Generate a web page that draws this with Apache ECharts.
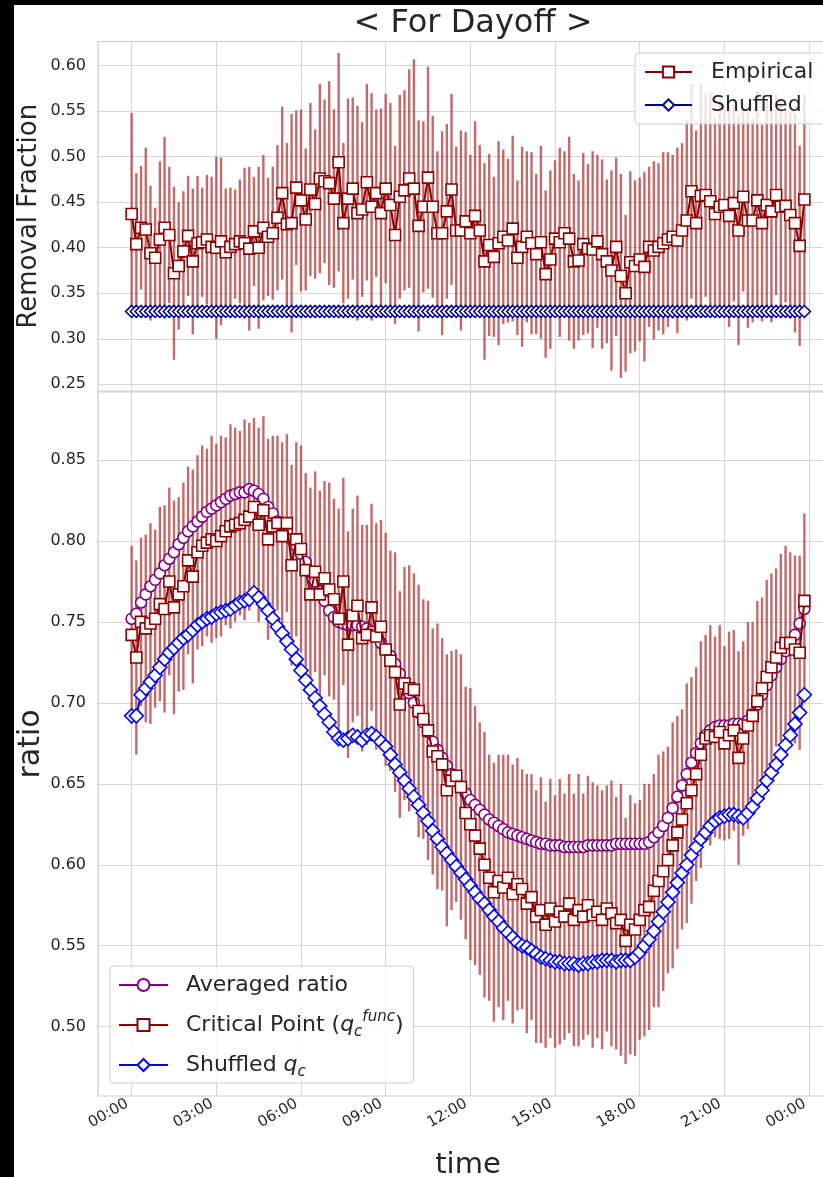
<!DOCTYPE html>
<html><head><meta charset="utf-8">
<script src="https://cdn.jsdelivr.net/npm/echarts@6/dist/echarts.min.js"></script>
<style>
html,body{margin:0;padding:0;background:#000;width:823px;height:1177px;overflow:hidden;}
#bg{position:absolute;left:14px;top:5px;width:809px;height:1172px;background:#fff;}
#chart{position:absolute;left:0;top:0;width:823px;height:1177px;}
</style></head><body><div id="bg"></div><div id="chart"></div>
<script>
// ---------------- data ----------------
const stepMinutes = 10; // one point every 10 minutes, 00:00 .. 23:50
const tickMinutes = [0, 180, 360, 540, 720, 900, 1080, 1260, 1440];
const timeLabels = ['00:00', '03:00', '06:00', '09:00', '12:00', '15:00', '18:00', '21:00', '00:00'];
const topTicks = [0.25, 0.30, 0.35, 0.40, 0.45, 0.50, 0.55, 0.60];
const bottomTicks = [0.50, 0.55, 0.60, 0.65, 0.70, 0.75, 0.80, 0.85];

const removalEmpirical = [
  0.437, 0.404, 0.422, 0.420, 0.394, 0.389, 0.409, 0.422, 0.414, 0.372,
  0.380, 0.396, 0.413, 0.385, 0.405, 0.406, 0.409, 0.401, 0.400, 0.407,
  0.395, 0.401, 0.404, 0.407, 0.405, 0.399, 0.418, 0.400, 0.422, 0.412,
  0.416, 0.433, 0.460, 0.426, 0.427, 0.466, 0.452, 0.431, 0.464, 0.448,
  0.476, 0.473, 0.471, 0.454, 0.494, 0.427, 0.454, 0.465, 0.438, 0.442,
  0.472, 0.445, 0.460, 0.438, 0.465, 0.447, 0.414, 0.456, 0.463, 0.476,
  0.465, 0.424, 0.445, 0.477, 0.445, 0.416, 0.416, 0.440, 0.464, 0.419,
  0.419, 0.429, 0.416, 0.435, 0.419, 0.385, 0.403, 0.390, 0.405, 0.412,
  0.408, 0.421, 0.389, 0.401, 0.412, 0.405, 0.393, 0.406, 0.371, 0.387,
  0.410, 0.406, 0.416, 0.410, 0.385, 0.386, 0.404, 0.399, 0.398, 0.407,
  0.393, 0.385, 0.375, 0.401, 0.369, 0.350, 0.384, 0.380, 0.387, 0.379,
  0.401, 0.397, 0.401, 0.405, 0.409, 0.412, 0.408, 0.419, 0.430, 0.462,
  0.427, 0.457, 0.458, 0.451, 0.437, 0.445, 0.447, 0.435, 0.449, 0.419,
  0.456, 0.430, 0.430, 0.452, 0.427, 0.447, 0.440, 0.458, 0.445, 0.446,
  0.436, 0.427, 0.402, 0.453
];
const removalEmpiricalErr = [
  0.111, 0.078, 0.068, 0.090, 0.074, 0.055, 0.086, 0.100, 0.075, 0.095,
  0.070, 0.066, 0.066, 0.080, 0.074, 0.060, 0.071, 0.077, 0.100, 0.092,
  0.070, 0.065, 0.060, 0.068, 0.083, 0.090, 0.060, 0.089, 0.080, 0.065,
  0.073, 0.080, 0.095, 0.089, 0.120, 0.085, 0.100, 0.078, 0.095, 0.082,
  0.104, 0.090, 0.112, 0.098, 0.120, 0.088, 0.110, 0.100, 0.118, 0.096,
  0.108, 0.125, 0.092, 0.115, 0.104, 0.112, 0.098, 0.112, 0.110, 0.120,
  0.142, 0.116, 0.094, 0.122, 0.100, 0.090, 0.112, 0.096, 0.105, 0.092,
  0.110, 0.098, 0.086, 0.104, 0.094, 0.108, 0.100, 0.088, 0.112, 0.096,
  0.090, 0.102, 0.085, 0.110, 0.094, 0.100, 0.088, 0.106, 0.092, 0.098,
  0.086, 0.104, 0.090, 0.112, 0.096, 0.088, 0.100, 0.093, 0.108, 0.095,
  0.104, 0.090, 0.110, 0.098, 0.112, 0.086, 0.100, 0.094, 0.090, 0.104,
  0.088, 0.098, 0.092, 0.100, 0.096, 0.090, 0.102, 0.096, 0.110, 0.118,
  0.102, 0.124, 0.112, 0.120, 0.106, 0.116, 0.110, 0.122, 0.108, 0.126,
  0.104, 0.118, 0.112, 0.120, 0.108, 0.116, 0.122, 0.110, 0.118, 0.106,
  0.114, 0.120, 0.110, 0.116
];
const removalShuffled = [
  0.330, 0.330, 0.330, 0.330, 0.330, 0.330, 0.330, 0.330, 0.330, 0.330,
  0.330, 0.330, 0.330, 0.330, 0.330, 0.330, 0.330, 0.330, 0.330, 0.330,
  0.330, 0.330, 0.330, 0.330, 0.330, 0.330, 0.330, 0.330, 0.330, 0.330,
  0.330, 0.330, 0.330, 0.330, 0.330, 0.330, 0.330, 0.330, 0.330, 0.330,
  0.330, 0.330, 0.330, 0.330, 0.330, 0.330, 0.330, 0.330, 0.330, 0.330,
  0.330, 0.330, 0.330, 0.330, 0.330, 0.330, 0.330, 0.330, 0.330, 0.330,
  0.330, 0.330, 0.330, 0.330, 0.330, 0.330, 0.330, 0.330, 0.330, 0.330,
  0.330, 0.330, 0.330, 0.330, 0.330, 0.330, 0.330, 0.330, 0.330, 0.330,
  0.330, 0.330, 0.330, 0.330, 0.330, 0.330, 0.330, 0.330, 0.330, 0.330,
  0.330, 0.330, 0.330, 0.330, 0.330, 0.330, 0.330, 0.330, 0.330, 0.330,
  0.330, 0.330, 0.330, 0.330, 0.330, 0.330, 0.330, 0.330, 0.330, 0.330,
  0.330, 0.330, 0.330, 0.330, 0.330, 0.330, 0.330, 0.330, 0.330, 0.330,
  0.330, 0.330, 0.330, 0.330, 0.330, 0.330, 0.330, 0.330, 0.330, 0.330,
  0.330, 0.330, 0.330, 0.330, 0.330, 0.330, 0.330, 0.330, 0.330, 0.330,
  0.330, 0.330, 0.330, 0.330
];

const averagedRatio = [
  0.752, 0.755, 0.762, 0.767, 0.772, 0.776, 0.780, 0.785, 0.789, 0.793,
  0.798, 0.802, 0.806, 0.809, 0.812, 0.815, 0.818, 0.820, 0.822, 0.824,
  0.826, 0.828, 0.829, 0.830, 0.830, 0.832, 0.831, 0.829, 0.826, 0.821,
  0.817, 0.812, 0.810, 0.806, 0.801, 0.797, 0.792, 0.787, 0.781, 0.775,
  0.769, 0.763, 0.757, 0.753, 0.750, 0.749, 0.748, 0.748, 0.748, 0.747,
  0.746, 0.744, 0.741, 0.737, 0.733, 0.729, 0.724, 0.718, 0.712, 0.706,
  0.700, 0.694, 0.688, 0.682, 0.676, 0.671, 0.666, 0.661, 0.656, 0.652,
  0.648, 0.644, 0.640, 0.637, 0.634, 0.631, 0.628, 0.626, 0.624, 0.622,
  0.620, 0.619, 0.618, 0.617, 0.616, 0.615, 0.614, 0.613, 0.613, 0.612,
  0.612, 0.612, 0.611, 0.611, 0.611, 0.611, 0.611, 0.612, 0.612, 0.612,
  0.612, 0.612, 0.612, 0.613, 0.613, 0.613, 0.613, 0.613, 0.613, 0.613,
  0.614, 0.617, 0.620, 0.624, 0.629, 0.635, 0.642, 0.649, 0.656, 0.663,
  0.669, 0.675, 0.680, 0.683, 0.685, 0.686, 0.686, 0.686, 0.687, 0.687,
  0.687, 0.689, 0.693, 0.699, 0.705, 0.711, 0.717, 0.722, 0.727, 0.732,
  0.737, 0.742, 0.749, 0.758
];
const criticalPoint = [
  0.742, 0.728, 0.750, 0.746, 0.749, 0.752, 0.761, 0.758, 0.775, 0.759,
  0.767, 0.772, 0.788, 0.778, 0.793, 0.797, 0.799, 0.801, 0.800, 0.803,
  0.806, 0.809, 0.810, 0.811, 0.813, 0.815, 0.821, 0.810, 0.819, 0.801,
  0.809, 0.811, 0.803, 0.811, 0.785, 0.801, 0.795, 0.782, 0.767, 0.781,
  0.767, 0.777, 0.770, 0.764, 0.752, 0.775, 0.736, 0.754, 0.760, 0.740,
  0.742, 0.759, 0.741, 0.747, 0.733, 0.726, 0.719, 0.699, 0.712, 0.709,
  0.708, 0.695, 0.690, 0.683, 0.670, 0.667, 0.662, 0.646, 0.652, 0.655,
  0.648, 0.632, 0.625, 0.618, 0.610, 0.600, 0.592, 0.583, 0.590, 0.586,
  0.592, 0.582, 0.588, 0.585, 0.576, 0.580, 0.568, 0.572, 0.563, 0.573,
  0.565, 0.571, 0.568, 0.576, 0.566, 0.572, 0.568, 0.575, 0.569, 0.571,
  0.566, 0.573, 0.570, 0.564, 0.566, 0.553, 0.563, 0.560, 0.566, 0.572,
  0.574, 0.584, 0.590, 0.596, 0.603, 0.612, 0.620, 0.628, 0.638, 0.646,
  0.656, 0.668, 0.678, 0.680, 0.679, 0.682, 0.675, 0.680, 0.683, 0.666,
  0.678, 0.686, 0.692, 0.701, 0.709, 0.716, 0.722, 0.728, 0.734, 0.737,
  0.737, 0.733, 0.731, 0.763
];
const criticalPointErr = [
  0.055, 0.060, 0.052, 0.058, 0.062, 0.055, 0.060, 0.064, 0.058, 0.066,
  0.060, 0.064, 0.058, 0.066, 0.060, 0.062, 0.058, 0.064, 0.060, 0.062,
  0.058, 0.063, 0.060, 0.057, 0.062, 0.058, 0.055, 0.060, 0.058, 0.062,
  0.056, 0.054, 0.058, 0.055, 0.062, 0.060, 0.064, 0.060, 0.066, 0.062,
  0.064, 0.060, 0.066, 0.062, 0.068, 0.064, 0.070, 0.066, 0.068, 0.070,
  0.068, 0.064, 0.070, 0.066, 0.072, 0.068, 0.074, 0.070, 0.072, 0.076,
  0.072, 0.078, 0.074, 0.080, 0.076, 0.082, 0.078, 0.084, 0.080, 0.078,
  0.082, 0.078, 0.084, 0.080, 0.078, 0.082, 0.076, 0.080, 0.078, 0.082,
  0.076, 0.080, 0.078, 0.074, 0.080, 0.076, 0.078, 0.082, 0.076, 0.080,
  0.078, 0.082, 0.076, 0.080, 0.078, 0.084, 0.076, 0.080, 0.082, 0.078,
  0.080, 0.076, 0.082, 0.078, 0.084, 0.076, 0.080, 0.078, 0.074, 0.078,
  0.076, 0.072, 0.078, 0.074, 0.070, 0.076, 0.072, 0.068, 0.074, 0.070,
  0.066, 0.070, 0.064, 0.068, 0.062, 0.066, 0.060, 0.064, 0.062, 0.066,
  0.060, 0.064, 0.058, 0.062, 0.056, 0.060, 0.058, 0.055, 0.058, 0.060,
  0.056, 0.058, 0.060, 0.054
];
const shuffledQc = [
  0.692, 0.692, 0.705, 0.709, 0.713, 0.717, 0.722, 0.727, 0.731, 0.734,
  0.737, 0.740, 0.742, 0.745, 0.748, 0.750, 0.752, 0.753, 0.755, 0.756,
  0.757, 0.758, 0.760, 0.762, 0.763, 0.764, 0.768, 0.765, 0.761, 0.757,
  0.752, 0.747, 0.743, 0.738, 0.733, 0.727, 0.720, 0.714, 0.708, 0.703,
  0.698, 0.693, 0.688, 0.682, 0.678, 0.677, 0.678, 0.680, 0.679, 0.677,
  0.680, 0.681, 0.679, 0.676, 0.673, 0.668, 0.662, 0.657, 0.652, 0.647,
  0.642, 0.637, 0.632, 0.627, 0.621, 0.616, 0.611, 0.607, 0.603, 0.599,
  0.595, 0.591, 0.587, 0.583, 0.579, 0.576, 0.572, 0.568, 0.565, 0.561,
  0.558, 0.555, 0.552, 0.550, 0.549, 0.547, 0.545, 0.543, 0.542, 0.541,
  0.540, 0.540, 0.539, 0.539, 0.539, 0.538, 0.539, 0.539, 0.540, 0.540,
  0.541, 0.541, 0.541, 0.540, 0.541, 0.541, 0.541, 0.543, 0.546, 0.550,
  0.554, 0.559, 0.565, 0.571, 0.577, 0.583, 0.589, 0.595, 0.600, 0.606,
  0.611, 0.616, 0.620, 0.624, 0.627, 0.629, 0.630, 0.631, 0.631, 0.630,
  0.629, 0.632, 0.636, 0.641, 0.646, 0.652, 0.657, 0.662, 0.668, 0.674,
  0.680, 0.687, 0.694, 0.705
];

// ---------------- chart ----------------
const FONT = 'DejaVu Sans';
const TEXT = '#262626';
const GRIDC = '#d6d6d6';
const ERRC = 'rgba(170,50,50,0.72)';

function pts(arr) { return arr.map((v, i) => [i * stepMinutes, v]); }
function errData(mean, err) { return mean.map((v, i) => [i * stepMinutes, v - err[i], v + err[i]]); }
function errSeries(xi, yi, mean, err) {
  return {
    type: 'custom', xAxisIndex: xi, yAxisIndex: yi, z: 1, silent: true,
    data: errData(mean, err), encode: { x: 0, y: [1, 2] },
    renderItem: function (params, api) {
      const x = api.value(0);
      const p1 = api.coord([x, api.value(1)]);
      const p2 = api.coord([x, api.value(2)]);
      return { type: 'line', shape: { x1: p1[0], y1: p1[1], x2: p2[0], y2: p2[1] },
        style: { stroke: ERRC, lineWidth: 2.4 } };
    }
  };
}
const xMin = -71.5, xMax = 1501.5;
function xAxisCfg(gi, showLabels) {
  return {
    gridIndex: gi, type: 'value', min: xMin, max: xMax,
    axisLine: { show: false },
    axisTick: { show: false, customValues: tickMinutes },
    axisLabel: {
      show: showLabels, customValues: tickMinutes, rotate: 30, margin: 4, padding: [0, 5, 0, 0],
      fontSize: 15, color: TEXT, fontFamily: FONT,
      formatter: v => timeLabels[tickMinutes.indexOf(Math.round(v))] || ''
    },
    splitLine: { show: true, lineStyle: { color: GRIDC, width: 1 } },
    name: showLabels ? 'time' : '', nameLocation: 'middle', nameGap: 55, nameMoveOverlap: false,
    nameTextStyle: { fontSize: 29, color: TEXT, fontFamily: FONT }
  };
}
function yAxisCfg(gi, min, max, ticks, name, nameSize, nameGap) {
  return {
    gridIndex: gi, type: 'value', min: min, max: max,
    axisLine: { show: false },
    axisTick: { show: false, customValues: ticks },
    axisLabel: { customValues: ticks, formatter: v => v.toFixed(2), fontSize: 16,
      color: TEXT, fontFamily: FONT, margin: 12 },
    splitLine: { show: true, lineStyle: { color: GRIDC, width: 1 } },
    name: name, nameLocation: 'middle', nameGap: nameGap, nameMoveOverlap: false,
    nameTextStyle: { fontSize: nameSize, color: TEXT, fontFamily: FONT }
  };
}
function lineSeries(name, xi, yi, data, symbol, size, color, z) {
  return {
    name: name, type: 'line', xAxisIndex: xi, yAxisIndex: yi, z: z,
    data: pts(data), symbol: symbol, symbolSize: size, showAllSymbol: true,
    lineStyle: { color: color, width: 2 },
    itemStyle: { color: '#ffffff', borderColor: color, borderWidth: 1.6 },
    emphasis: { disabled: true }, silent: true
  };
}

const chart = echarts.init(document.getElementById('chart'), null, { renderer: 'canvas' });
chart.setOption({
  animation: false,
  backgroundColor: 'transparent',
  title: {
    text: '< For Dayoff >', left: 468, top: 3, textAlign: 'center',
    textStyle: { fontSize: 32, fontWeight: 'normal', color: TEXT, fontFamily: FONT }
  },
  grid: [
    { left: 98, top: 41.5, width: 740, height: 349.5, show: true, borderColor: '#cccccc', borderWidth: 1.2,
      backgroundColor: 'transparent', outerBoundsMode: 'none', containLabel: false },
    { left: 98, top: 392, width: 740, height: 704, show: true, borderColor: '#cccccc', borderWidth: 1.2,
      backgroundColor: 'transparent', outerBoundsMode: 'none', containLabel: false }
  ],
  xAxis: [xAxisCfg(0, false), xAxisCfg(1, true)],
  yAxis: [
    yAxisCfg(0, 0.2426, 0.6266, topTicks, 'Removal Fraction', 26, 56),
    yAxisCfg(1, 0.4572, 0.892, bottomTicks, 'ratio', 30, 52)
  ],
  legend: [
    {
      data: ['Empirical', 'Shuffled'], orient: 'vertical', left: 635, top: 53,
      itemWidth: 47, itemHeight: 14, itemGap: 11, padding: [8, 40, 8, 9],
      backgroundColor: 'rgba(255,255,255,0.8)', borderColor: '#cccccc', borderWidth: 1, borderRadius: 4,
      textStyle: { fontSize: 22, color: TEXT, fontFamily: FONT, padding: [0, 0, 0, 14] },
      selectedMode: false
    },
    {
      data: ['Averaged ratio', 'Critical Point', 'Shuffled qc'], orient: 'vertical', left: 110, top: 966,
      itemWidth: 49, itemHeight: 15, itemGap: 10, padding: [4, 10, 3, 8],
      backgroundColor: 'rgba(255,255,255,0.8)', borderColor: '#cccccc', borderWidth: 1, borderRadius: 4,
      selectedMode: false,
      formatter: function (name) {
        if (name === 'Critical Point') return '{t|Critical Point (}{q|q}{sub|c}{sup|func}{t|)}';
        if (name === 'Shuffled qc') return '{t|Shuffled }{q|q}{sub|c}';
        return '{t|' + name + '}';
      },
      textStyle: {
        fontSize: 22, color: TEXT, fontFamily: FONT, lineHeight: 30, padding: [0, 0, 0, 13],
        rich: {
          t: { fontSize: 22, color: TEXT, fontFamily: FONT, lineHeight: 30 },
          q: { fontSize: 22, color: TEXT, fontFamily: FONT, fontStyle: 'italic', lineHeight: 30 },
          sub: { fontSize: 15, color: TEXT, fontFamily: FONT, fontStyle: 'italic', verticalAlign: 'bottom' },
          sup: { fontSize: 15, color: TEXT, fontFamily: FONT, fontStyle: 'italic', verticalAlign: 'top' }
        }
      }
    }
  ],
  series: [
    errSeries(0, 0, removalEmpirical, removalEmpiricalErr),
    lineSeries('Shuffled', 0, 0, removalShuffled, 'diamond', [12, 12], '#00008b', 4),
    lineSeries('Empirical', 0, 0, removalEmpirical, 'rect', 11, '#8b0000', 3),
    errSeries(1, 1, criticalPoint, criticalPointErr),
    lineSeries('Averaged ratio', 1, 1, averagedRatio, 'circle', 11, '#800080', 2),
    lineSeries('Critical Point', 1, 1, criticalPoint, 'rect', 11, '#8b0000', 3),
    lineSeries('Shuffled qc', 1, 1, shuffledQc, 'diamond', [14, 14], '#0000ff', 4)
  ]
});
</script></body></html>
